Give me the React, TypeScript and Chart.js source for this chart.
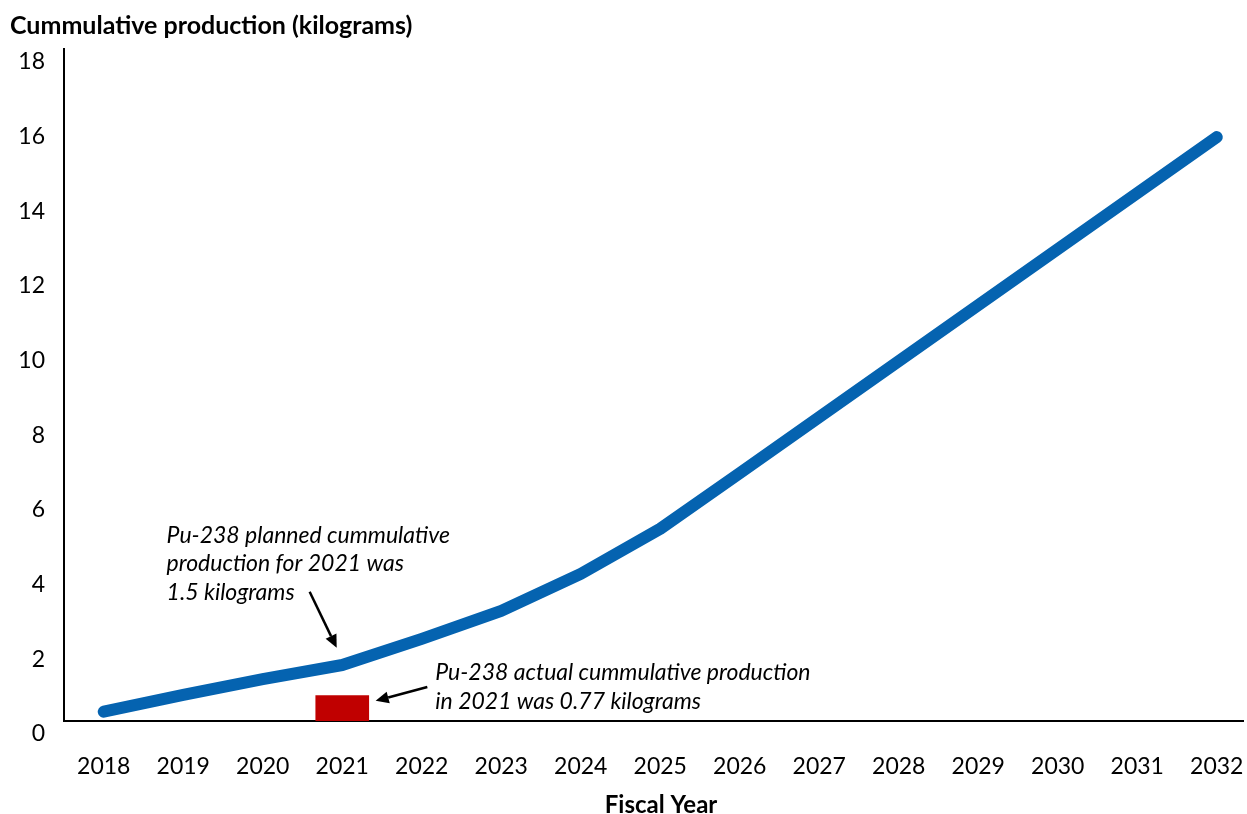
import { useEffect, useRef } from 'react';
import { Chart, registerables } from 'chart.js';

Chart.register(...registerables);

// ---- data ----
const years = [2018, 2019, 2020, 2021, 2022, 2023, 2024, 2025, 2026, 2027, 2028, 2029, 2030, 2031, 2032];
const plannedKg = [0.25, 0.7, 1.12, 1.5, 2.2, 2.95, 3.94, 5.15, 6.64, 8.14, 9.64, 11.14, 12.64, 14.14, 15.64];
const actualYears = [2021];
const actualKg = [0.68];
const yTickValues = [0, 2, 4, 6, 8, 10, 12, 14, 16, 18];
const yAxisTitle = 'Cummulative production (kilograms)';
const xAxisTitle = 'Fiscal Year';
const plannedNote = ['Pu-238 planned cummulative', 'production for 2021 was', '1.5 kilograms'];
const actualNote = ['Pu-238 actual cummulative production', 'in 2021 was 0.77 kilograms'];

const FONT = 'Lato, "Open Sans", sans-serif';

function drawArrow(ctx: CanvasRenderingContext2D, x1: number, y1: number, x2: number, y2: number) {
  const ang = Math.atan2(y2 - y1, x2 - x1);
  const head = 13;
  const half = 6;
  const bx = x2 - head * Math.cos(ang);
  const by = y2 - head * Math.sin(ang);
  ctx.beginPath();
  ctx.moveTo(x1, y1);
  ctx.lineTo(bx, by);
  ctx.strokeStyle = '#000';
  ctx.lineWidth = 2.5;
  ctx.stroke();
  ctx.beginPath();
  ctx.moveTo(x2, y2);
  ctx.lineTo(bx + half * Math.sin(ang), by - half * Math.cos(ang));
  ctx.lineTo(bx - half * Math.sin(ang), by + half * Math.cos(ang));
  ctx.closePath();
  ctx.fillStyle = '#000';
  ctx.fill();
}

const notesPlugin = {
  id: 'notes',
  afterDraw(chart: any) {
    const { ctx } = chart;
    const x = chart.scales.x;
    const y = chart.scales.y;
    ctx.save();
    ctx.fillStyle = '#000';
    ctx.textBaseline = 'middle';
    ctx.font = `bold 25px ${FONT}`;
    ctx.textAlign = 'left';
    ctx.fillText(yAxisTitle, 10, 26);
    ctx.font = `bold 24px ${FONT}`;
    ctx.textAlign = 'center';
    ctx.fillText(xAxisTitle, 661, 805);

    ctx.font = `italic 23px ${FONT}`;
    ctx.textAlign = 'left';
    plannedNote.forEach((t, i) => {
      ctx.fillText(t, x.getPixelForValue(2018.79), y.getPixelForValue(4.98) + i * 28.5);
    });
    actualNote.forEach((t, i) => {
      ctx.fillText(t, x.getPixelForValue(2022.17), y.getPixelForValue(1.29) + i * 29);
    });
    drawArrow(ctx, x.getPixelForValue(2020.59), y.getPixelForValue(3.46), x.getPixelForValue(2020.93), y.getPixelForValue(1.96));
    drawArrow(ctx, x.getPixelForValue(2022.07), y.getPixelForValue(0.91), x.getPixelForValue(2021.42), y.getPixelForValue(0.54));
    ctx.restore();
  },
};

export default function App() {
  const ref = useRef<HTMLCanvasElement | null>(null);

  useEffect(() => {
    if (!ref.current) return;
    const chart = new Chart(ref.current, {
      type: 'line',
      data: {
        datasets: [
          {
            type: 'line',
            label: 'Planned',
            data: years.map((yr, i) => ({ x: yr, y: plannedKg[i] })),
            borderColor: '#0563B0',
            backgroundColor: '#0563B0',
            borderWidth: 12,
            borderCapStyle: 'round',
            borderJoinStyle: 'round',
            pointRadius: 0,
            tension: 0,
            clip: false,
            order: 1,
          } as any,
          {
            type: 'bar',
            label: 'Actual',
            data: actualYears.map((yr, i) => ({ x: yr, y: actualKg[i] })),
            backgroundColor: '#C00000',
            borderWidth: 0,
            barThickness: 53,
            order: 2,
          } as any,
        ],
      },
      options: {
        animation: false,
        responsive: true,
        maintainAspectRatio: false,
        layout: { padding: { top: 49, right: 4, left: 0, bottom: 0 } },
        plugins: {
          legend: { display: false },
          tooltip: { enabled: false },
          title: { display: false },
        },
        scales: {
          x: {
            type: 'linear',
            offset: false,
            min: 2017.5,
            max: 2032.33,
            grid: { display: false, drawTicks: false, offset: false },
            border: { display: true, color: '#000', width: 2 },
            afterFit: (s: any) => {
              s.height = 93;
              s.paddingLeft = 0;
              s.paddingRight = 0;
            },
            ticks: {
              stepSize: 1,
              includeBounds: false,
              autoSkip: false,
              maxRotation: 0,
              padding: 32,
              color: '#000',
              font: { family: FONT, size: 23 },
              callback: (v: any) => (years.includes(Number(v)) ? String(v) : ''),
            },
          },
          y: {
            type: 'linear',
            min: yTickValues[0],
            max: yTickValues[yTickValues.length - 1],
            grid: { display: false, drawTicks: false },
            border: { display: true, color: '#000', width: 2 },
            afterFit: (s: any) => {
              s.width = 64;
              s.paddingTop = 0;
              s.paddingBottom = 0;
            },
            ticks: {
              stepSize: 2,
              padding: 19,
              labelOffset: 13,
              color: '#000',
              font: { family: FONT, size: 23 },
              callback: (v: any) => (yTickValues.includes(Number(v)) ? String(v) : ''),
            },
          },
        },
      },
      plugins: [notesPlugin],
    });
    return () => chart.destroy();
  }, []);

  return (
    <div style={{ position: 'fixed', left: 0, top: 0, width: 1247, height: 814, background: '#fff' }}>
      <canvas ref={ref} />
    </div>
  );
}
